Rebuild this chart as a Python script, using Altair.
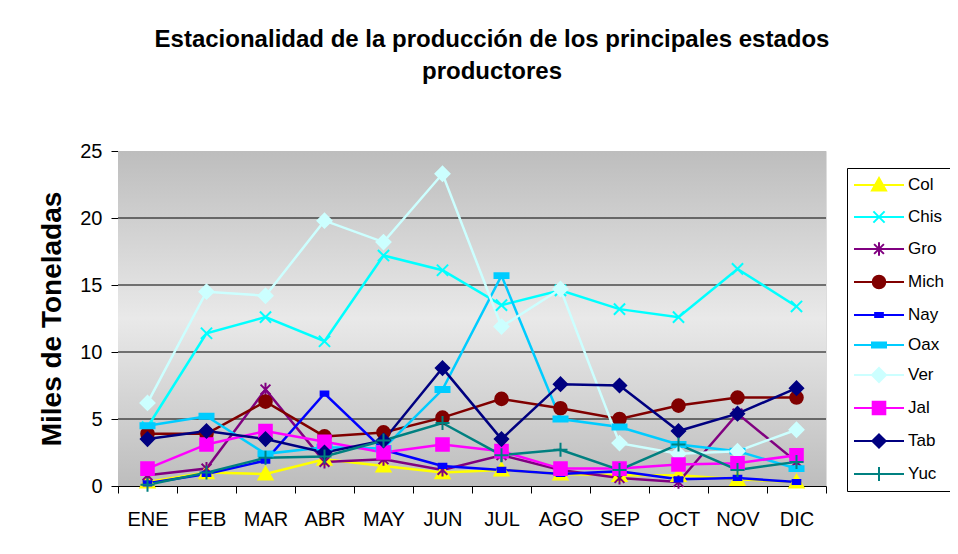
import altair as alt
import pandas as pd

meses = ["ENE", "FEB", "MAR", "ABR", "MAY", "JUN", "JUL", "AGO", "SEP", "OCT", "NOV", "DIC"]
estados = ["Col", "Chis", "Gro", "Mich", "Nay", "Oax", "Ver", "Jal", "Tab", "Yuc"]

col = [0.3, 1.0, 0.9, 2.0, 1.5, 1.0, 1.2, 0.9, 0.8, 0.8, 0.5, 0.3]
chis = [4.4, 11.4, 12.6, 10.8, 17.2, 16.1, 13.5, 14.6, 13.2, 12.6, 16.2, 13.4]
gro = [0.8, 1.3, 7.2, 1.8, 2.0, 1.2, 2.3, 1.2, 0.6, 0.3, 5.4, 1.8]
mich = [3.9, 3.9, 6.3, 3.7, 4.0, 5.1, 6.5, 5.8, 5.0, 6.0, 6.6, 6.6]
nay = [0.2, 0.9, 1.9, 6.9, 2.7, 1.5, 1.2, 0.9, 1.1, 0.5, 0.6, 0.3]
oax = [4.5, 5.2, 2.4, 2.9, 2.8, 7.2, 15.7, 5.0, 4.4, 3.1, 2.6, 1.3]
ver = [6.2, 14.5, 14.2, 19.8, 18.2, 23.3, 11.9, 14.7, 3.2, 2.4, 2.6, 4.2]
jal = [1.3, 3.1, 4.1, 3.3, 2.5, 3.1, 2.6, 1.3, 1.3, 1.6, 1.7, 2.3]
tab = [3.5, 4.1, 3.5, 2.5, 3.4, 8.8, 3.5, 7.6, 7.5, 4.1, 5.4, 7.3]
yuc = [0.1, 1.0, 2.1, 2.2, 3.4, 4.7, 2.3, 2.7, 1.2, 3.1, 1.2, 1.8]

colores = ["#ffff00", "#00ffff", "#800080", "#800000", "#0000ff",
           "#00ccff", "#ccffff", "#ff00ff", "#000080", "#008080"]

y_ticks = [0, 5, 10, 15, 20, 25]
grid_vals = [5, 10, 15, 20]

series = [col, chis, gro, mich, nay, oax, ver, jal, tab, yuc]
rows = []
for est, vals in zip(estados, series):
    for m, v in zip(meses, vals):
        rows.append({"mes": m, "estado": est, "valor": v})
df = pd.DataFrame(rows)

# marker paths (unit coordinates)
markers = [
    [("M", 0, -1), ("L", 1, 0.8), ("L", -1, 0.8), ("Z",)],
    [("M", -0.8, -0.8), ("L", 0.8, 0.8), ("M", -0.8, 0.8), ("L", 0.8, -0.8)],
    [("M", -0.7, -0.7), ("L", 0.7, 0.7), ("M", -0.7, 0.7), ("L", 0.7, -0.7), ("M", 0, -0.95), ("L", 0, 0.95)],
    "circle",
    [("M", -0.55, -0.3), ("L", 0.55, -0.3), ("L", 0.55, 0.3), ("L", -0.55, 0.3), ("Z",)],
    [("M", -1, -0.35), ("L", 1, -0.35), ("L", 1, 0.35), ("L", -1, 0.35), ("Z",)],
    [("M", 0, -1), ("L", 1, 0), ("L", 0, 1), ("L", -1, 0), ("Z",)],
    [("M", -0.9, -0.9), ("L", 0.9, -0.9), ("L", 0.9, 0.9), ("L", -0.9, 0.9), ("Z",)],
    [("M", 0, -0.95), ("L", 0.95, 0), ("L", 0, 0.95), ("L", -0.95, 0), ("Z",)],
    [("M", -1, 0), ("L", 1, 0), ("M", 0, -1), ("L", 0, 1)],
]


def to_path(mk, k=1.0):
    if mk == "circle":
        r = 0.9 * k
        return f"M{-r:.3f},0A{r:.3f},{r:.3f} 0 1,0 {r:.3f},0A{r:.3f},{r:.3f} 0 1,0 {-r:.3f},0Z"
    out = ""
    for seg in mk:
        if seg[0] == "Z":
            out += "Z"
        else:
            out += f"{seg[0]}{seg[1]*k:.3f},{seg[2]*k:.3f}"
    return out


shapes_plot = [to_path(m) for m in markers]
shapes_leg = ["M-2.5,0L2.5,0" + to_path(m, 0.7) for m in markers]

FONT = "Liberation Sans"

x_enc = alt.X("mes:N", sort=meses,
              scale=alt.Scale(type="band", domain=meses, paddingInner=0, paddingOuter=0),
              axis=alt.Axis(title=None, labelFontSize=20, labelFont=FONT, labelColor="black",
                            labelAngle=0, labelPadding=16, tickSize=7, tickColor="black",
                            tickBand="extent", domainColor="black", domainWidth=1, grid=False))
y_enc = alt.Y("valor:Q",
              scale=alt.Scale(domain=[0, 25], nice=False, zero=True),
              axis=alt.Axis(title="Miles de Toneladas", values=y_ticks, labelFontSize=20,
                            labelFont=FONT, labelColor="black", labelPadding=9, tickSize=7,
                            tickColor="black", domainColor="black", grid=False,
                            titleFontSize=28, titleFont=FONT, titleFontWeight="bold",
                            titleColor="black", titlePadding=13))

colorS = alt.Scale(domain=estados, range=colores)
shapeS = alt.Scale(domain=estados, range=shapes_plot)
shapeLegS = alt.Scale(domain=estados, range=shapes_leg)

bg = alt.Chart(pd.DataFrame({"a": [0]})).mark_rect(
    color=alt.Gradient(gradient="linear", x1=0, x2=0, y1=0, y2=1,
                       stops=[alt.GradientStop(offset=0, color="#bdbdbd"),
                              alt.GradientStop(offset=0.5, color="#e9e9e9"),
                              alt.GradientStop(offset=1, color="#bdbdbd")])
).encode(x=alt.value(0), x2=alt.value("width"), y=alt.value(0), y2=alt.value("height"))

grid = alt.Chart(pd.DataFrame({"g": grid_vals})).mark_rule(color="black", strokeWidth=1).encode(
    y=alt.Y("g:Q", scale=alt.Scale(domain=[0, 25], nice=False)))

base = alt.Chart(df)
lines = base.mark_line(strokeWidth=2.5).encode(
    x=x_enc, y=y_enc,
    stroke=alt.Stroke("estado:N", scale=colorS, legend=None),
    order=alt.Order("mes_idx:Q"),
).transform_calculate(mes_idx=f"indexof({meses}, datum.mes)")

points = base.mark_point(size=196, strokeWidth=2, opacity=1).encode(
    x=x_enc, y=y_enc,
    fill=alt.Fill("estado:N", scale=colorS, legend=None),
    stroke=alt.Stroke("estado:N", scale=colorS, legend=None),
    shape=alt.Shape("estado:N", scale=shapeS, legend=None),
)

main = alt.layer(bg, grid, lines, points)

leg_common = dict(title=None, orient="none", legendX=729, legendY=17,
                  labelFont=FONT, labelFontSize=17, labelColor="black",
                  symbolSize=400, symbolStrokeWidth=2, symbolOffset=15, labelOffset=18,
                  rowPadding=11.0, padding=6, strokeColor="black", fillColor="white",
                  symbolOpacity=1)

empty = pd.DataFrame({"leyenda": pd.Series([], dtype=str), "mes": pd.Series([], dtype=str),
                      "valor": pd.Series([], dtype=float)})
legend_layer = alt.Chart(empty).mark_point().encode(
    x=alt.X("mes:N", sort=meses, scale=alt.Scale(type="band", domain=meses)),
    y=alt.Y("valor:Q"),
    shape=alt.Shape("leyenda:N", scale=shapeLegS, legend=alt.Legend(**leg_common)),
    fill=alt.Fill("leyenda:N", scale=colorS, legend=alt.Legend(**leg_common)),
    stroke=alt.Stroke("leyenda:N", scale=colorS, legend=alt.Legend(**leg_common)),
)

chart = alt.layer(main, legend_layer).resolve_scale(
    shape="independent", fill="independent", stroke="independent"
).properties(
    width=708, height=335,
    padding={"left": 110, "top": 143, "right": 124, "bottom": 60},
    autosize=alt.AutoSizeParams(type="none"),
    title=alt.Title(["Estacionalidad de la producción de los principales estados", "productores"],
                    fontSize=24, font=FONT, fontWeight="bold", color="black",
                    anchor="middle", dx=20, offset=57, lineHeight=32),
).configure_view(stroke="#808080", strokeWidth=2).configure(background="white")

chart.save("out.html", embed_options={"renderer": "svg", "actions": False})
